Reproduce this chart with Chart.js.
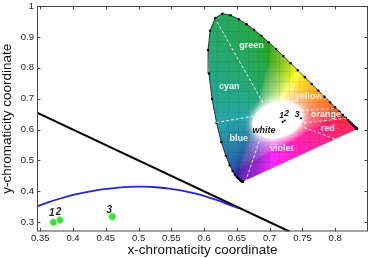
<!DOCTYPE html>
<html>
<head>
<meta charset="utf-8">
<script src="https://cdn.jsdelivr.net/npm/chart.js@4.4.0/dist/chart.umd.min.js"></script>
<style>
  html, body { margin: 0; padding: 0; background: #fff; }
  #wrap { position: relative; width: 376px; height: 258px; }
  #chart { position: absolute; left: 0; top: 0; }
  #inset { position: absolute; left: 199px; top: 5px; }
</style>
</head>
<body>
<div id="wrap">
  <canvas id="chart" width="376" height="258"></canvas>
  <canvas id="inset" width="168" height="185"></canvas>
</div>
<script>
// main chart data
var xTicks = [0.35, 0.4, 0.45, 0.5, 0.55, 0.6, 0.65, 0.7, 0.75, 0.8];
var yTicks = [0.3, 0.4, 0.5, 0.6, 0.7, 0.8, 0.9, 1];
var lineX = [0.345, 0.73];
var lineY = [0.655, 0.27];
var planckX = [0.3451, 0.3608, 0.3805, 0.4053, 0.4369, 0.4476, 0.4690, 0.4862, 0.5056, 0.5267, 0.5497, 0.5732, 0.5857, 0.5985, 0.6251, 0.6528];
var planckY = [0.3516, 0.3636, 0.3768, 0.3907, 0.4041, 0.4074, 0.4123, 0.4147, 0.4152, 0.4133, 0.4081, 0.3993, 0.3931, 0.3858, 0.3674, 0.3444];
var sampleX = [0.37, 0.38, 0.46];
var sampleY = [0.30, 0.307, 0.318];
var sampleLabels = ['1', '2', '3'];

// inset: spectral locus, 380..700 nm every 5 nm
var locusX = [0.1741, 0.1740, 0.1738, 0.1736, 0.1733, 0.1730, 0.1726, 0.1721, 0.1714, 0.1703, 0.1689, 0.1669, 0.1644, 0.1611, 0.1566, 0.1510, 0.1440, 0.1355, 0.1241, 0.1096, 0.0913, 0.0687, 0.0454, 0.0235, 0.0082, 0.0039, 0.0139, 0.0389, 0.0743, 0.1142, 0.1547, 0.1929, 0.2296, 0.2658, 0.3016, 0.3373, 0.3731, 0.4087, 0.4441, 0.4788, 0.5125, 0.5448, 0.5752, 0.6029, 0.6270, 0.6482, 0.6658, 0.6801, 0.6915, 0.7006, 0.7079, 0.7140, 0.7190, 0.7230, 0.7260, 0.7283, 0.7300, 0.7311, 0.7320, 0.7327, 0.7334, 0.7340, 0.7344, 0.7346, 0.7347];
var locusY = [0.0050, 0.0050, 0.0049, 0.0049, 0.0048, 0.0048, 0.0048, 0.0048, 0.0051, 0.0058, 0.0069, 0.0086, 0.0109, 0.0138, 0.0177, 0.0227, 0.0297, 0.0399, 0.0578, 0.0868, 0.1327, 0.2007, 0.2950, 0.4127, 0.5384, 0.6548, 0.7502, 0.8120, 0.8338, 0.8262, 0.8059, 0.7816, 0.7543, 0.7243, 0.6923, 0.6589, 0.6245, 0.5896, 0.5547, 0.5202, 0.4866, 0.4544, 0.4242, 0.3965, 0.3725, 0.3514, 0.3340, 0.3197, 0.3083, 0.2993, 0.2920, 0.2859, 0.2809, 0.2770, 0.2740, 0.2717, 0.2700, 0.2689, 0.2680, 0.2673, 0.2666, 0.2660, 0.2656, 0.2654, 0.2653];
var insetGrid = [0, 0.05, 0.1, 0.15, 0.2, 0.25, 0.3, 0.35, 0.4, 0.45, 0.5, 0.55, 0.6, 0.65, 0.7, 0.75, 0.8, 0.85];

// colour region dividers (start near white area, end on the border)
var divStartX = [0.273, 0.227, 0.395, 0.46, 0.474, 0.451, 0.255];
var divStartY = [0.394, 0.328, 0.408, 0.357, 0.295, 0.281, 0.206];
var divEndX = [0.044, 0.037, 0.46, 0.632, 0.682, 0.628, 0.19];
var divEndY = [0.80, 0.296, 0.559, 0.367, 0.318, 0.215, 0.013];

var regionNames = ['green', 'cyan', 'yellow', 'orange', 'red', 'blue', 'violet'];
var regionX = [0.217, 0.108, 0.498, 0.582, 0.591, 0.155, 0.365];
var regionY = [0.677, 0.475, 0.423, 0.334, 0.267, 0.22, 0.169];

Chart.defaults.font.family = '"Liberation Sans", Arial, sans-serif';

function pts(xs, ys) {
  return xs.map(function (x, i) { return { x: x, y: ys[i] }; });
}

// inward ticks and box, like the original plot
var frame = {
  id: 'frame',
  afterDraw: function (chart) {
    var ctx = chart.ctx, a = chart.chartArea;
    var sx = chart.scales.x, sy = chart.scales.y;
    ctx.save();
    ctx.strokeStyle = '#444';
    ctx.lineWidth = 1;
    ctx.strokeRect(a.left + 0.5, a.top + 0.5, a.right - a.left - 1, a.bottom - a.top - 1);
    ctx.beginPath();
    xTicks.forEach(function (v) {
      var p = Math.round(sx.getPixelForValue(v)) + 0.5;
      ctx.moveTo(p, a.bottom); ctx.lineTo(p, a.bottom - 3.5);
      ctx.moveTo(p, a.top); ctx.lineTo(p, a.top + 3.5);
    });
    yTicks.forEach(function (v) {
      var p = Math.round(sy.getPixelForValue(v)) + 0.5;
      ctx.moveTo(a.left, p); ctx.lineTo(a.left + 3.5, p);
      ctx.moveTo(a.right, p); ctx.lineTo(a.right - 3.5, p);
    });
    ctx.stroke();
    ctx.restore();
  }
};

var pointNumbers = {
  id: 'pointNumbers',
  afterDatasetsDraw: function (chart) {
    var ctx = chart.ctx;
    var meta = chart.getDatasetMeta(0);
    ctx.save();
    ctx.font = 'italic bold 10px "Liberation Sans", Arial, sans-serif';
    ctx.fillStyle = '#222';
    ctx.textAlign = 'center';
    ctx.textBaseline = 'middle';
    var off = [[-1.6, -9], [-1.4, -8], [-3, -6.5]];
    meta.data.forEach(function (el, i) {
      ctx.fillText(sampleLabels[i], el.x + off[i][0], el.y + off[i][1]);
    });
    ctx.restore();
  }
};

new Chart(document.getElementById('chart'), {
  type: 'scatter',
  data: {
    datasets: [{
      label: 'samples',
      data: pts(sampleX, sampleY),
      pointRadius: 3.6,
      backgroundColor: '#3ddc3d',
      borderColor: '#a6f2a6',
      borderWidth: 1,
      order: 0
    }, {
      label: 'planck',
      data: pts(planckX, planckY),
      showLine: true,
      borderColor: '#2424d6',
      borderWidth: 1.8,
      pointRadius: 0,
      tension: 0.3,
      order: 1
    }, {
      label: 'x+y=1',
      data: pts(lineX, lineY),
      showLine: true,
      borderColor: '#000',
      borderWidth: 2,
      pointRadius: 0,
      order: 2
    }]
  },
  options: {
    responsive: false,
    animation: false,
    events: [],
    layout: { padding: { left: 0, right: 8, top: 6, bottom: 0 } },
    plugins: { legend: { display: false }, tooltip: { enabled: false } },
    scales: {
      x: {
        type: 'linear', min: 0.345, max: 0.85,
        afterBuildTicks: function (s) { s.ticks = xTicks.map(function (v) { return { value: v }; }); },
        afterFit: function (s) { s.height = 26.5; s.paddingLeft = 0; s.paddingRight = 0; },
        grid: { display: false, drawTicks: false },
        border: { display: false },
        ticks: { color: '#222', font: { size: 9.5 }, padding: 1, maxRotation: 0, autoSkip: false,
                 callback: function (v) { return String(v); } },
        title: { display: true, text: 'x-chromaticity coordinate', color: '#111', font: { size: 13.5 }, padding: 0 }
      },
      y: {
        type: 'linear', min: 0.27, max: 1,
        afterBuildTicks: function (s) { s.ticks = yTicks.map(function (v) { return { value: v }; }); },
        afterFit: function (s) { s.width = 37; s.paddingTop = 0; s.paddingBottom = 0; },
        grid: { display: false, drawTicks: false },
        border: { display: false },
        ticks: { color: '#222', font: { size: 9.5 }, padding: 3, autoSkip: false,
                 callback: function (v) { return String(v); } },
        title: { display: true, text: 'y-chromaticity coordinate', color: '#111', font: { size: 13.5 }, padding: { top: -1 } }
      }
    }
  },
  plugins: [frame, pointNumbers]
});

// ---------- inset chromaticity diagram ----------
function chromaColor(x, y) {
  if (y < 0.001) y = 0.001;
  var X = x / y, Z = (1 - x - y) / y;
  var r = 3.2406 * X - 1.5372 - 0.4986 * Z;
  var g = -0.9689 * X + 1.8758 + 0.0415 * Z;
  var b = 0.0557 * X - 0.2040 + 1.0570 * Z;
  var lo = Math.min(r, g, b);
  if (lo < 0) { r -= lo * 0.5; g -= lo * 0.5; b -= lo * 0.5; }
  r = Math.max(r, 0); g = Math.max(g, 0); b = Math.max(b, 0);
  var hi = Math.max(r, g, b);
  r /= hi; g /= hi; b /= hi;
  // pull greens a little towards yellow-green, as in the printed diagram
  b *= 1 - 0.5 * Math.max(0, g - b);
  var sat = 1 - Math.min(r, g, b);
  var gam = function (v) { return v <= 0.0031308 ? 12.92 * v : 1.055 * Math.pow(v, 1 / 2.4) - 0.055; };
  var k = 255 * (1 - 0.4 * sat * (1 - r));
  return [r, g, b].map(function (v) { return gam(v) * k * 0.85 + 255 * 0.15; });
}

function locusPath(ctx, meta) {
  ctx.beginPath();
  meta.data.forEach(function (p, i) { if (i) ctx.lineTo(p.x, p.y); else ctx.moveTo(p.x, p.y); });
  ctx.closePath();
}

var spectrumFill = {
  id: 'spectrumFill',
  beforeDatasetsDraw: function (chart) {
    var ctx = chart.ctx, a = chart.chartArea;
    var sx = chart.scales.x, sy = chart.scales.y;
    var idx = chart.data.datasets.findIndex(function (d) { return d.label === 'locus'; });
    var meta = chart.getDatasetMeta(idx);
    var w = Math.round(a.right - a.left), h = Math.round(a.bottom - a.top);
    var off = document.createElement('canvas');
    off.width = w; off.height = h;
    var octx = off.getContext('2d');
    var img = octx.createImageData(w, h);
    for (var j = 0; j < h; j++) {
      var cy = sy.getValueForPixel(a.top + j + 0.5);
      for (var i = 0; i < w; i++) {
        var cx = sx.getValueForPixel(a.left + i + 0.5);
        var c = chromaColor(cx, cy);
        var k = (j * w + i) * 4;
        img.data[k] = c[0]; img.data[k + 1] = c[1]; img.data[k + 2] = c[2]; img.data[k + 3] = 255;
      }
    }
    octx.putImageData(img, 0, 0);
    ctx.save();
    locusPath(ctx, meta);
    ctx.clip();
    ctx.drawImage(off, a.left, a.top);
    ctx.strokeStyle = 'rgba(0,0,0,0.07)';
    ctx.lineWidth = 1;
    ctx.beginPath();
    insetGrid.forEach(function (v) {
      var px = Math.round(sx.getPixelForValue(v)) + 0.5;
      var py = Math.round(sy.getPixelForValue(v)) + 0.5;
      ctx.moveTo(px, a.top); ctx.lineTo(px, a.bottom);
      ctx.moveTo(a.left, py); ctx.lineTo(a.right, py);
    });
    ctx.stroke();
    ctx.restore();
  },
  beforeDatasetDraw: function (chart, args) {
    if (chart.data.datasets[args.index].label !== 'samples') return;
    var ctx = chart.ctx, sx = chart.scales.x, sy = chart.scales.y;
    var cx = sx.getPixelForValue(0.345), cy = sy.getPixelForValue(0.309);
    var rx = sx.getPixelForValue(0.345 + 0.126) - cx;
    var ry = cy - sy.getPixelForValue(0.309 + 0.087);
    ctx.save();
    ctx.shadowColor = 'rgba(255,255,255,0.95)';
    ctx.shadowBlur = 8;
    ctx.fillStyle = '#fff';
    ctx.beginPath();
    ctx.ellipse(cx, cy, rx, ry, -16 * Math.PI / 180, 0, Math.PI * 2);
    ctx.fill();
    ctx.fill();
    ctx.restore();
  }
};

var insetLabels = {
  id: 'insetLabels',
  afterDatasetsDraw: function (chart) {
    var ctx = chart.ctx, sx = chart.scales.x, sy = chart.scales.y;
    ctx.save();
    ctx.textAlign = 'center';
    ctx.textBaseline = 'middle';
    ctx.font = 'bold 9px "Liberation Sans", Arial, sans-serif';
    regionNames.forEach(function (n, i) {
      ctx.fillStyle = n === 'yellow' ? 'rgba(255,255,255,0.7)' : 'rgba(255,255,255,0.92)';
      ctx.fillText(n, sx.getPixelForValue(regionX[i]), sy.getPixelForValue(regionY[i]));
    });
    ctx.fillStyle = '#111';
    ctx.font = 'italic bold 9px "Liberation Sans", Arial, sans-serif';
    ctx.fillText('white', sx.getPixelForValue(0.278), sy.getPixelForValue(0.259));
    var idx = chart.data.datasets.findIndex(function (d) { return d.label === 'samples'; });
    var off = [[-1, -6], [2, -6.6], [-4, -4]];
    ctx.font = 'italic bold 8.5px "Liberation Sans", Arial, sans-serif';
    chart.getDatasetMeta(idx).data.forEach(function (el, i) {
      ctx.fillText(sampleLabels[i], el.x + off[i][0], el.y + off[i][1]);
    });
    ctx.restore();
  }
};

var insetSets = [{
  label: 'samples',
  data: pts(sampleX, sampleY),
  pointRadius: 1.1,
  backgroundColor: '#000',
  borderWidth: 0,
  order: 0
}];
divStartX.forEach(function (x0, i) {
  insetSets.push({
    label: 'divider' + i,
    data: [{ x: x0, y: divStartY[i] }, { x: divEndX[i], y: divEndY[i] }],
    showLine: true,
    borderColor: 'rgba(255,255,255,0.85)',
    borderWidth: 1,
    borderDash: [3, 2],
    pointRadius: 0,
    order: 1
  });
});
insetSets.push({
  label: 'locus',
  data: pts(locusX, locusY),
  showLine: true,
  borderColor: '#111',
  borderWidth: 0.8,
  pointRadius: 1.2,
  pointBackgroundColor: '#000',
  pointBorderWidth: 0,
  order: 2
});

new Chart(document.getElementById('inset'), {
  type: 'scatter',
  data: { datasets: insetSets },
  options: {
    responsive: false,
    animation: false,
    events: [],
    layout: { padding: 0 },
    plugins: { legend: { display: false }, tooltip: { enabled: false } },
    scales: {
      x: { type: 'linear', min: -0.021, max: 0.764, display: false },
      y: { type: 'linear', min: -0.016, max: 0.8566, display: false }
    }
  },
  plugins: [spectrumFill, insetLabels]
});
</script>
</body>
</html>
